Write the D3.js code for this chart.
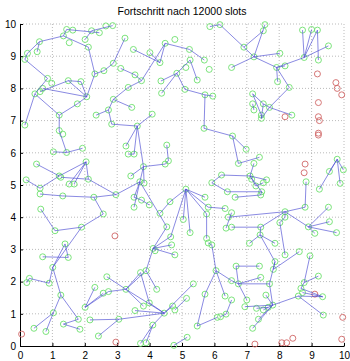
<!DOCTYPE html>
<html>
<head>
<meta charset="utf-8">
<script src="https://cdn.jsdelivr.net/npm/d3@7"></script>
<style>
  body { margin: 0; background: #fff; }
  text { font-family: "Liberation Sans", Arial, sans-serif; }
</style>
</head>
<body>
<script>
const title = "Fortschritt nach 12000 slots";
const ticks = [0, 1, 2, 3, 4, 5, 6, 7, 8, 9, 10];

// green nodes (reached), data units
const greenNodes = [
  [1.44,9.83],[1.63,9.81],[2.21,9.79],[2.45,9.73],[2.65,9.94],[2.86,9.95],[1.34,9.63],[1.52,9.42],
  [2.01,9.52],[2.11,9.28],[0.60,9.45],[0.53,9.14],[0.23,9.09],[0.15,8.90],[2.31,8.45],[2.59,8.55],
  [2.88,8.78],[0.85,8.31],[0.98,8.16],[1.49,8.24],[1.88,8.21],[0.70,8.00],[0.62,7.90],[0.46,7.83],
  [2.06,7.74],[1.77,7.52],[1.21,7.17],[0.15,6.86],[2.35,7.17],[2.73,7.33],[2.88,7.66],[2.83,6.89],
  [5.86,9.92],[6.17,9.98],[3.24,9.56],[3.50,9.21],[4.01,9.11],[4.48,9.40],[4.78,9.52],[5.23,9.21],
  [4.32,8.80],[5.25,8.88],[5.69,8.88],[5.84,8.59],[3.11,8.62],[3.55,8.42],[3.75,8.24],[3.34,8.03],
  [4.35,8.23],[4.84,8.47],[5.12,8.65],[5.47,8.26],[4.37,7.85],[5.09,7.97],[5.71,7.80],[5.95,7.76],
  [3.45,7.41],[4.08,7.20],[3.62,6.83],[5.68,6.76],
  [7.56,9.98],[7.51,9.79],[6.91,9.28],[7.22,8.98],[8.02,9.09],[6.53,8.65],[7.92,8.65],[8.18,8.70],
  [8.72,9.81],[9.00,9.83],[9.18,9.81],[9.52,9.32],[8.77,8.96],[9.21,8.88],[7.95,8.21],[8.31,8.03],
  [7.18,7.83],[7.18,7.52],[7.51,7.52],[7.70,7.41],[7.22,7.33],[7.45,7.17],[7.45,7.07],[8.39,7.17],
  [1.21,6.69],[1.32,6.58],[1.03,6.03],[1.44,6.01],[1.93,6.14],[0.51,5.65],[2.04,5.72],[1.21,5.28],
  [1.26,5.24],[2.11,5.18],[0.19,5.16],[1.52,5.03],[1.67,5.03],[0.62,4.90],[0.62,4.72],[1.32,4.66],
  [2.28,4.62],[2.96,4.70],[0.64,4.25],[2.57,4.10],[1.08,3.58],[1.90,3.69],
  [3.27,6.21],[3.34,5.96],[3.52,5.96],[4.53,6.24],[4.58,5.75],[4.48,5.65],[3.81,5.57],[3.42,5.28],
  [3.70,5.10],[3.83,5.06],[3.52,4.62],[3.75,4.53],[3.52,4.31],[3.99,4.38],[4.63,4.48],[5.12,4.87],
  [4.32,4.12],[5.04,3.93],[4.53,3.70],[5.71,4.62],[5.81,4.31],[5.76,4.10],[6.22,5.31],[5.92,5.07],
  [6.40,4.79],[6.33,4.27],[6.43,4.00],[6.36,3.66],[5.25,3.52],[5.76,3.34],[4.65,3.39],
  [6.56,6.52],[6.98,6.11],[6.74,5.67],[7.22,5.67],[7.39,5.86],[7.10,5.28],[7.15,5.18],[7.61,5.16],
  [7.51,5.07],[7.28,4.97],[7.46,4.79],[7.43,4.69],[6.64,4.62],[8.83,5.10],[9.24,4.87],[9.55,5.42],
  [9.79,5.80],[9.98,5.47],[9.88,5.05],[9.52,4.31],[8.80,4.31],[8.18,4.17],[8.18,4.00],[8.02,3.83],
  [6.53,4.14],[8.90,3.70],[9.55,3.86],[9.77,3.52],[9.10,3.50],[7.43,3.69],[6.53,3.69],[7.41,3.45],
  [1.39,3.17],[1.49,2.75],[0.70,2.77],[1.01,2.44],[0.29,2.10],[0.21,1.97],[0.90,1.95],[1.26,1.58],
  [2.31,1.82],[2.01,1.20],[2.68,2.15],[2.57,1.64],[2.73,1.69],[2.16,0.81],[2.42,0.31],[3.05,0.83],
  [1.03,1.03],[1.80,0.83],[1.34,0.68],[1.85,0.52],[0.43,0.55],[0.80,0.45],
  [5.81,3.20],[5.92,3.14],[4.11,3.03],[4.17,2.96],[4.68,3.14],[4.78,2.83],[3.72,2.28],[3.89,2.34],
  [4.22,1.76],[3.27,1.76],[5.35,1.93],[5.14,1.48],[5.71,1.61],[6.05,2.34],[6.33,1.55],[3.99,1.34],
  [3.81,1.24],[3.55,1.10],[4.71,1.24],[4.78,1.12],[4.45,1.02],[5.47,0.62],[6.09,0.89],[6.19,0.91],
  [6.36,0.99],[4.10,0.65],[3.72,0.08],[3.89,0.10],[4.75,0.02],[5.16,0.27],
  [7.08,3.19],[7.87,3.19],[8.18,2.83],[8.62,2.93],[7.87,2.62],[8.95,2.80],[6.67,2.48],[7.39,2.48],
  [9.21,2.17],[7.43,2.13],[7.82,2.38],[6.53,2.03],[6.74,1.93],[7.70,1.93],[8.77,1.97],[8.67,1.79],
  [8.72,1.66],[8.59,1.55],[9.34,1.53],[7.59,1.58],[7.00,1.43],[6.94,1.22],[7.30,1.17],[7.51,1.12],
  [7.66,1.20],[7.80,1.27],[9.36,0.96],[7.36,0.83],[7.18,0.55],[6.53,1.43]
];

// red nodes (not yet reached)
const redNodes = [
  [8.18,7.12],[9.18,8.45],[9.75,8.18],[9.79,8.00],[9.93,7.80],[9.21,7.56],[9.21,7.12],[9.24,7.00],
  [9.21,6.55],[9.21,6.61],[8.80,5.65],[8.77,5.38],[2.93,3.42],[0.05,0.37],[2.96,0.12],[9.10,1.61],
  [9.96,0.89],[9.93,0.21],[7.25,0.06],[8.08,0.10],[8.23,0.10],[8.42,0.24]
];

// links between nodes: [x1, y1, x2, y2]
const links = [
  [1.44,9.83,2.45,9.73],[2.21,9.79,2.86,9.95],[2.01,9.52,2.21,9.79],[1.34,9.63,1.44,9.83],
  [0.60,9.45,1.34,9.63],[1.34,9.63,2.11,9.28],[2.11,9.28,2.31,8.45],[2.31,8.45,2.59,8.55],
  [2.59,8.55,2.88,8.78],[2.88,8.78,3.24,9.56],[0.60,9.45,0.23,9.09],[0.23,9.09,0.15,8.90],
  [0.53,9.14,0.60,9.45],[0.15,8.90,0.85,8.31],[0.85,8.31,0.46,7.83],[1.49,8.24,0.62,7.90],
  [1.49,8.24,1.88,8.21],[1.88,8.21,2.06,7.74],[1.49,8.24,2.06,7.74],[0.70,8.00,2.06,7.74],
  [2.06,7.74,1.77,7.52],[2.06,7.74,2.31,8.45],[0.46,7.83,1.21,7.17],[1.21,7.17,1.77,7.52],
  [1.21,7.17,1.21,6.69],[2.35,7.17,2.73,7.33],[2.73,7.33,2.88,7.66],[2.73,7.33,2.83,6.89],
  [2.83,6.89,3.62,6.83],[0.15,6.86,0.46,7.83],
  [2.88,7.66,3.45,7.41],[4.08,7.20,3.62,6.83],[3.50,9.21,4.32,8.80],[4.48,9.40,5.23,9.21],
  [5.23,9.21,5.69,8.88],[4.48,9.40,4.32,8.80],[4.48,9.40,3.75,8.24],[3.75,8.24,3.34,8.03],
  [3.55,8.42,3.75,8.24],[3.11,8.62,3.55,8.42],[3.34,8.03,2.88,7.66],[4.01,9.11,4.32,8.80],
  [4.35,8.23,4.84,8.47],[4.37,7.85,4.84,8.47],[4.84,8.47,5.09,7.97],[4.84,8.47,5.25,8.88],
  [5.25,8.88,5.47,8.26],[5.09,7.97,5.71,7.80],[5.71,7.80,5.95,7.76],[5.71,7.80,5.68,6.76],
  [5.68,6.76,6.56,6.52],[5.86,9.92,6.17,9.98],[6.17,9.98,6.91,9.28],
  [7.56,9.98,7.22,8.98],[7.51,9.79,6.91,9.28],[6.91,9.28,7.22,8.98],[7.22,8.98,8.02,9.09],
  [7.22,8.98,6.53,8.65],[7.22,8.98,7.92,8.65],[7.92,8.65,8.18,8.70],[7.92,8.65,8.77,8.96],
  [8.77,8.96,8.72,9.81],[8.77,8.96,9.00,9.83],[8.77,8.96,9.18,9.81],[8.77,8.96,9.52,9.32],
  [9.18,9.81,9.21,8.88],[7.92,8.65,7.95,8.21],[7.92,8.65,8.31,8.03],[8.31,8.03,7.70,7.41],
  [7.18,7.83,7.51,7.52],[7.18,7.83,7.45,7.17],[7.18,7.52,7.22,7.33],[7.51,7.52,7.70,7.41],
  [7.70,7.41,8.39,7.17],[7.45,7.17,7.45,7.07],[7.51,7.52,7.45,7.07],[7.45,7.07,7.70,7.41],
  [1.21,6.69,1.44,6.01],[1.03,6.03,1.44,6.01],[1.44,6.01,1.93,6.14],[0.51,5.65,1.21,5.28],
  [1.21,5.28,2.04,5.72],[2.04,5.72,1.52,5.03],[2.04,5.72,1.67,5.03],[2.04,5.72,2.11,5.18],
  [0.19,5.16,0.62,4.90],[0.62,4.90,1.21,5.28],[1.26,5.24,2.11,5.18],[2.11,5.18,2.96,4.70],
  [0.62,4.72,1.32,4.66],[1.32,4.66,2.28,4.62],[2.28,4.62,2.96,4.70],[2.28,4.62,2.57,4.10],
  [2.57,4.10,1.90,3.69],[1.90,3.69,1.08,3.58],[1.08,3.58,0.64,4.25],[1.01,2.44,1.90,3.69],
  [1.01,2.44,1.39,3.17],[1.39,3.17,1.49,2.75],[1.49,2.75,0.70,2.77],
  [3.62,6.83,3.27,6.21],[3.62,6.83,3.52,5.96],[3.62,6.83,3.81,5.57],[3.34,5.96,3.52,5.96],
  [4.53,6.24,4.58,5.75],[4.58,5.75,4.48,5.65],[3.81,5.57,4.48,5.65],[3.81,5.57,3.42,5.28],
  [3.81,5.57,3.70,5.10],[3.81,5.57,3.83,5.06],[3.70,5.10,2.96,4.70],[3.70,5.10,3.52,4.62],
  [3.70,5.10,3.52,4.31],[3.52,4.62,3.75,4.53],[3.75,4.53,3.99,4.38],[3.70,5.10,4.53,3.70],
  [5.12,4.87,4.63,4.48],[4.63,4.48,4.32,4.12],[5.12,4.87,5.04,3.93],[5.12,4.87,5.71,4.62],
  [5.12,4.87,5.81,4.31],[5.12,4.87,5.76,4.10],[5.12,4.87,4.65,3.39],[5.12,4.87,5.25,3.52],
  [5.76,4.10,5.76,3.34],[5.81,4.31,6.33,4.27],[6.22,5.31,5.92,5.07],[6.22,5.31,7.10,5.28],
  [5.92,5.07,6.40,4.79],[6.40,4.79,7.46,4.79],[6.43,4.00,8.18,4.17],[6.36,3.66,6.53,4.14],
  [8.18,4.17,7.43,3.69],[7.43,3.69,7.41,3.45],[6.53,3.69,7.43,3.69],
  [6.56,6.52,6.98,6.11],[6.56,6.52,6.74,5.67],[6.74,5.67,7.39,5.86],[7.22,5.67,7.10,5.28],
  [7.10,5.28,7.61,5.16],[7.10,5.28,7.28,4.97],[7.10,5.28,7.46,4.79],[7.51,5.07,7.28,4.97],
  [7.46,4.79,7.43,4.69],[7.43,4.69,6.64,4.62],[8.83,5.10,8.80,4.31],[8.80,4.31,8.18,4.17],
  [8.18,4.17,8.90,3.70],[8.18,4.00,8.02,3.83],[8.18,4.17,8.18,4.00],[8.90,3.70,9.55,3.86],
  [8.90,3.70,9.10,3.50],[8.90,3.70,9.77,3.52],[8.90,3.70,9.52,4.31],[9.24,4.87,9.79,5.80],
  [9.55,5.42,9.79,5.80],[9.79,5.80,9.98,5.47],[9.79,5.80,9.88,5.05],[8.02,3.83,8.18,2.83],
  [1.01,2.44,0.90,1.95],[0.90,1.95,0.29,2.10],[0.29,2.10,0.21,1.97],[1.01,2.44,1.26,1.58],
  [1.26,1.58,1.80,0.83],[1.26,1.58,1.03,1.03],[1.03,1.03,0.43,0.55],[1.03,1.03,0.80,0.45],
  [1.80,0.83,1.34,0.68],[1.34,0.68,1.85,0.52],[2.31,1.82,2.01,1.20],[2.01,1.20,2.73,1.69],
  [2.01,1.20,2.57,1.64],[2.73,1.69,3.27,1.76],[2.68,2.15,3.27,1.76],[2.16,0.81,3.05,0.83],
  [2.42,0.31,3.05,0.83],
  [4.11,3.03,4.68,3.42],[4.11,3.03,4.68,3.14],[4.11,3.03,4.78,2.83],[4.53,3.70,4.11,3.03],
  [4.11,3.03,3.89,2.34],[4.17,2.96,4.11,3.03],[3.27,1.76,3.72,2.28],[3.27,1.76,3.89,2.34],
  [3.27,1.76,3.81,1.24],[3.27,1.76,4.45,1.02],[3.89,2.34,4.22,1.76],[3.72,2.28,3.99,1.34],
  [4.45,1.02,3.99,1.34],[4.45,1.02,3.55,1.10],[4.45,1.02,4.71,1.24],[4.45,1.02,5.35,1.93],
  [4.45,1.02,4.10,0.65],[4.45,1.02,3.05,0.83],[5.14,1.48,4.78,1.12],[4.10,0.65,3.72,0.08],
  [4.10,0.65,3.89,0.10],[5.71,1.61,5.47,0.62],[5.71,1.61,6.05,2.34],[5.92,3.14,6.05,2.34],
  [5.81,3.20,5.92,3.14],[5.47,0.62,6.09,0.89],[6.05,2.34,6.33,1.55],[5.16,0.27,4.75,0.02],
  [6.19,0.91,6.36,0.99],[6.36,0.99,6.53,1.43],
  [7.41,3.45,7.08,3.19],[7.41,3.45,7.87,3.19],[7.41,3.45,7.87,2.62],[7.87,2.62,7.82,2.38],
  [7.82,2.38,8.62,2.93],[8.95,2.80,8.77,1.97],[9.21,2.17,8.77,1.97],[8.77,1.97,8.67,1.79],
  [8.67,1.79,9.34,1.53],[8.72,1.66,9.34,1.53],[8.59,1.55,9.34,1.53],[8.59,1.55,7.80,1.27],
  [8.59,1.55,9.36,0.96],[6.67,2.48,7.39,2.48],[6.74,1.93,6.67,2.48],[6.74,1.93,7.43,2.13],
  [6.74,1.93,7.70,1.93],[6.53,2.03,6.74,1.93],[6.53,2.03,6.05,2.34],[6.74,1.93,7.00,1.43],
  [7.70,1.93,7.87,2.62],[7.70,1.93,7.80,1.27],[7.80,1.27,7.18,0.55],[7.80,1.27,6.94,1.22],
  [7.80,1.27,7.51,1.12],[7.80,1.27,7.36,0.83],[7.59,1.58,7.80,1.27],[7.30,1.17,7.66,1.20]
];

const width = 350, height = 361;
const margin = {top: 24, right: 6, bottom: 15, left: 20};
const w = width - margin.left - margin.right;
const h = height - margin.top - margin.bottom;

const svg = d3.select("body").append("svg")
  .attr("width", width)
  .attr("height", height);

svg.append("rect").attr("width", width).attr("height", height).attr("fill", "#fff");

const g = svg.append("g")
  .attr("transform", "translate(" + margin.left + "," + margin.top + ")");

const xScale = d3.scaleLinear().domain([0, 10]).range([0, w]);
const yScale = d3.scaleLinear().domain([0, 10]).range([h, 0]);

// dotted grid
g.append("g").selectAll("line.gx").data(ticks.slice(1)).enter().append("line")
  .attr("x1", d => xScale(d)).attr("x2", d => xScale(d))
  .attr("y1", 0).attr("y2", h)
  .attr("stroke", "#a8a8a8").attr("stroke-width", 0.8).attr("stroke-dasharray", "1,2");
g.append("g").selectAll("line.gy").data(ticks.slice(1)).enter().append("line")
  .attr("y1", d => yScale(d)).attr("y2", d => yScale(d))
  .attr("x1", 0).attr("x2", w)
  .attr("stroke", "#a8a8a8").attr("stroke-width", 0.8).attr("stroke-dasharray", "1,2");

// axes, ticks pointing inward
const xAxis = g.append("g")
  .attr("transform", "translate(0," + h + ")")
  .call(d3.axisBottom(xScale).tickValues(ticks).tickSizeInner(-3).tickSizeOuter(0).tickPadding(6));
const yAxis = g.append("g")
  .call(d3.axisLeft(yScale).tickValues(ticks).tickSizeInner(-3).tickSizeOuter(0).tickPadding(4));
[xAxis, yAxis].forEach(a => {
  a.selectAll("text").style("font-size", "10px").attr("fill", "#000");
  a.select(".domain").attr("stroke", "#000").attr("stroke-width", 1);
  a.selectAll(".tick line").attr("stroke", "#000");
});

// nodes
g.append("g").selectAll("circle").data(greenNodes).enter().append("circle")
  .attr("cx", d => xScale(d[0])).attr("cy", d => yScale(d[1]))
  .attr("r", 3)
  .attr("fill", "none").attr("stroke", "#6ee06e").attr("stroke-width", 0.9);

g.append("g").selectAll("circle").data(redNodes).enter().append("circle")
  .attr("cx", d => xScale(d[0])).attr("cy", d => yScale(d[1]))
  .attr("r", 3)
  .attr("fill", "none").attr("stroke", "#d06868").attr("stroke-width", 0.9);

// links
g.append("g").selectAll("line").data(links).enter().append("line")
  .attr("x1", d => xScale(d[0])).attr("y1", d => yScale(d[1]))
  .attr("x2", d => xScale(d[2])).attr("y2", d => yScale(d[3]))
  .attr("stroke", "#4a4ad2").attr("stroke-width", 0.65);

svg.append("text")
  .attr("x", margin.left + w / 2).attr("y", 15)
  .attr("text-anchor", "middle")
  .style("font-size", "10.5px")
  .text(title);
</script>
</body>
</html>
